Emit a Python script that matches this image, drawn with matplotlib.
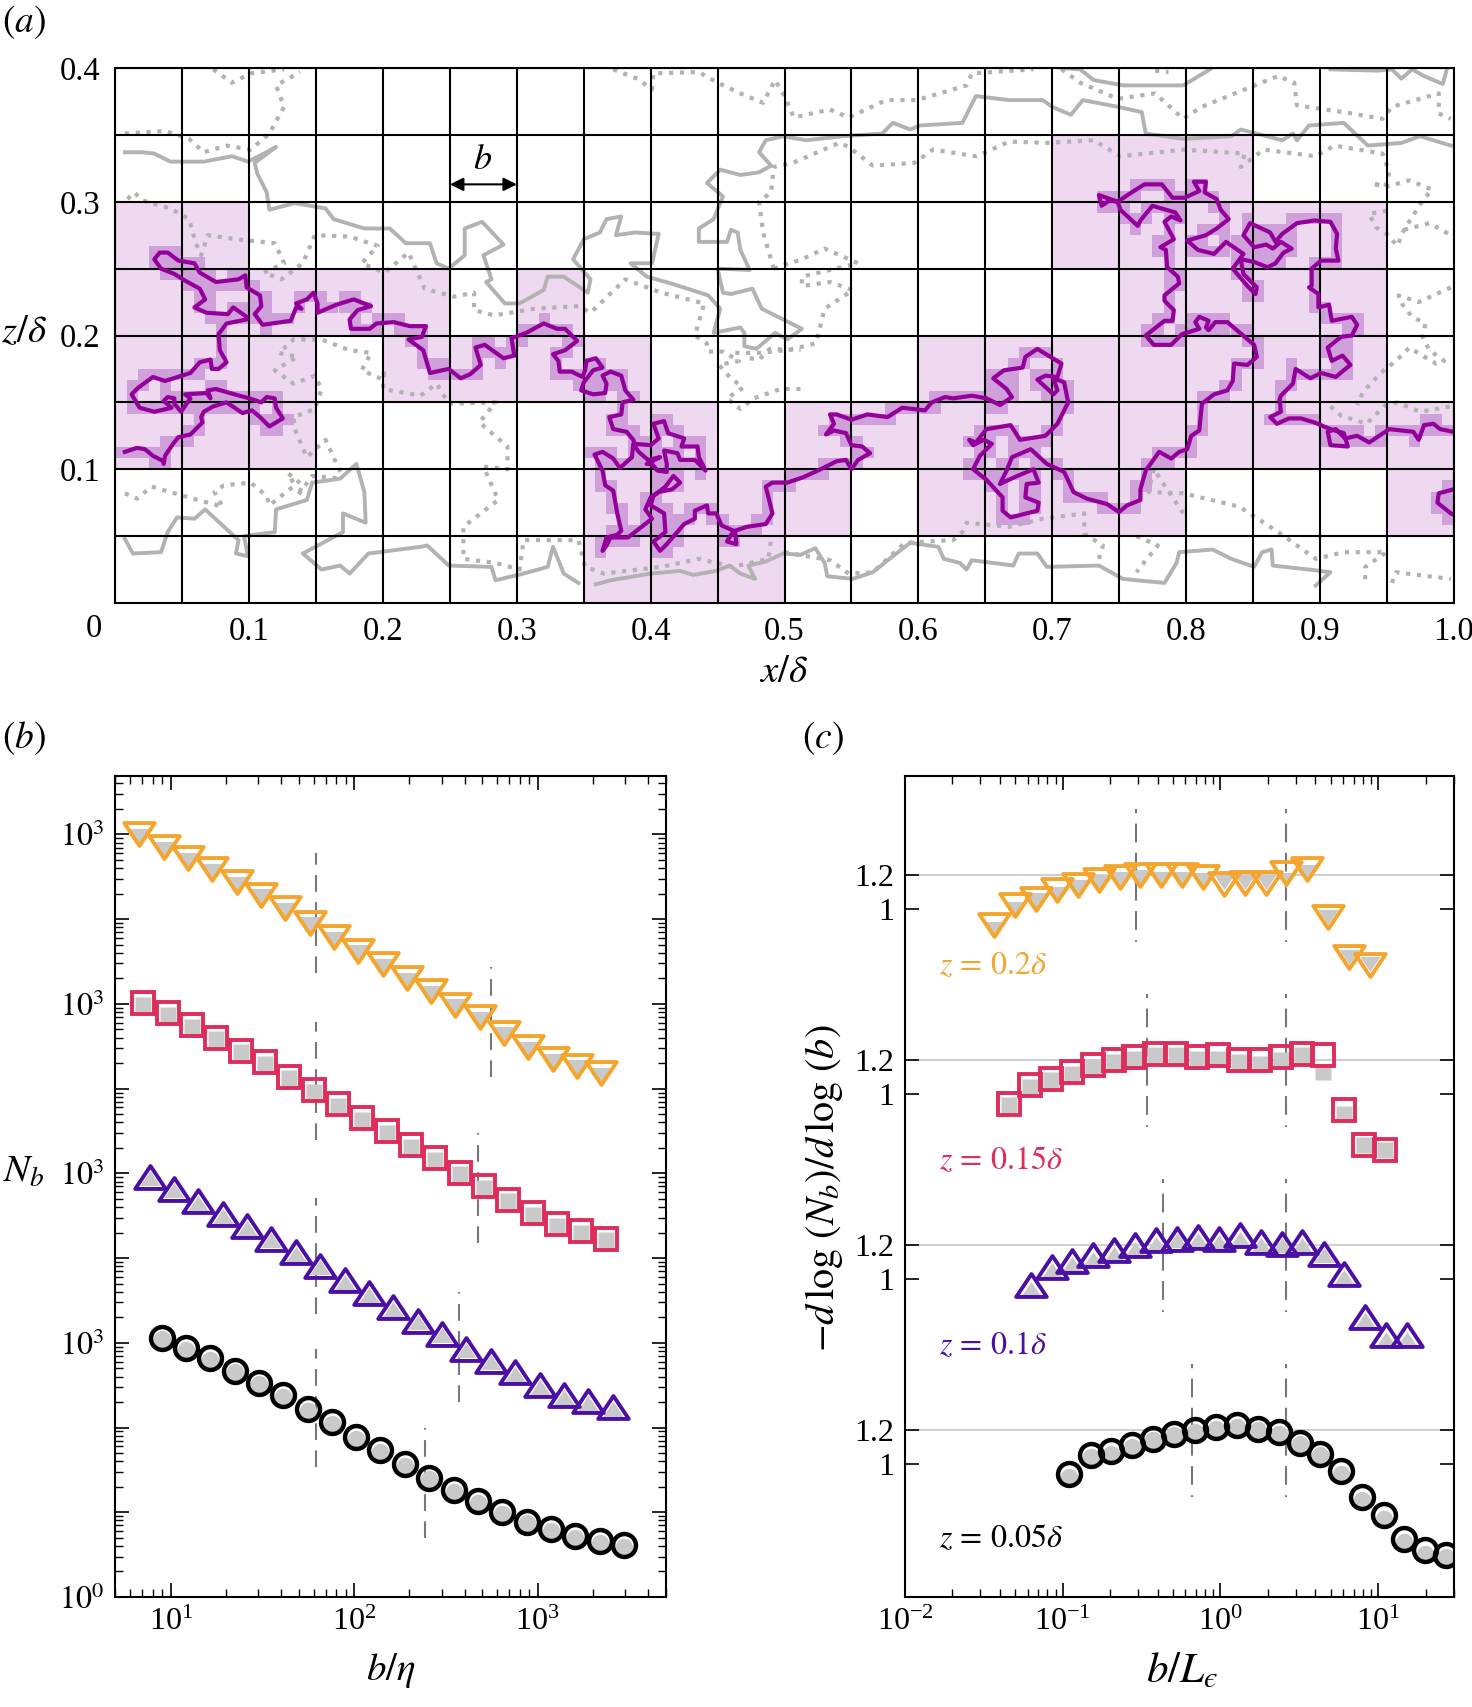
import matplotlib
matplotlib.use('Agg')
import matplotlib.pyplot as plt
import numpy as np
from matplotlib.patches import Rectangle
from matplotlib.path import Path
from matplotlib.ticker import LogLocator, NullFormatter

plt.rcParams['font.family'] = ['Liberation Serif', 'DejaVu Serif']
plt.rcParams['mathtext.fontset'] = 'stix'
plt.rcParams['font.size'] = 23

W, H = 1472.0, 1707.0

# ---- panel a, contours digitised as (x, z) in units of 0.001 delta
purple_1 = [(7,113),(16,116),(22,115),(28,110),(36,106),(36,104),(37,110),(43,119),(47,124),(56,126),(65,135),(64,139),(66,143),(73,147),(83,150),(89,146),(95,142),(102,144),(108,139),(115,132),(125,138),(120,146),(119,153),(113,154),(109,150),(100,153),(89,156),(75,160),(69,159),(71,153),(68,157),(52,156),(56,153),(49,143),(44,149),(44,153),(39,154),(36,151),(42,146),(29,143),(18,146),(12,156),(17,161),(28,169),(37,166),(56,172),(63,180),(71,182),(72,175),(77,175),(83,180),(78,189),(77,201),(83,209),(98,212),(98,214),(88,221),(84,216),(68,217),(59,221),(67,227),(63,235),(52,241),(44,246),(34,250),(29,257),(33,262),(39,262),(47,256),(59,254),(63,247),(75,240),(92,242),(97,245),(98,236),(108,230),(109,222),(104,216),(110,208),(131,211),(135,221),(139,220),(135,224),(143,227),(148,232),(151,224),(151,217),(165,223),(178,227),(191,222),(181,219),(175,212),(176,205),(190,205),(195,209),(208,210),(220,207),(232,207),(229,199),(219,197),(230,189),(235,172),(249,175),
            (258,168),(265,171),(273,178),(269,191),(276,193),(290,183),(298,185),(296,198),(307,202),(320,209),(330,205),(336,205),(345,196),(336,189),(327,186),(331,181),(332,173),(341,173),(349,169),(351,174),(352,181),(359,183),(364,176),(357,174),(350,165),(348,159),(357,156),(366,157),(367,164),(364,170),(370,173),(378,170),(381,159),(387,152),(379,150),(378,141),(369,139),(372,130),(382,128),(387,122),(388,119),(400,118),(406,123),(402,134),(410,136),(413,127),(425,123),(423,117),(435,117),(436,109),(441,99),(433,107),(422,107),(420,112),(410,114),(412,104),(412,98),(405,99),(401,104),(397,104),(407,109),(398,107),(391,113),(387,119),(386,109),(377,101),(372,108),(364,113),(358,111),(364,99),(366,88),(372,84),(375,67),(378,54),(375,51),(367,49),(364,39),(367,43),(370,49),(383,49),(401,63),(396,70),(400,79),(406,83),(416,85),(422,90),(417,95),(411,87),(402,80),(400,73),(410,67),(411,53),(406,49),(402,46),(407,39),(412,44),(425,59),(433,63),(433,69),(442,73),(443,67),(449,67),(453,58),(462,54),(457,46),(464,44),(463,54),(472,57),(486,59),(491,67),(486,87),(491,90),(502,90),
            (514,94),(527,100),(539,106),(546,107),(550,100),(555,107),(564,112),(558,117),(550,118),(546,127),(537,129),(531,126),(537,134),(534,141),(539,141),(550,137),(562,141),(577,139),(588,146),(605,144),(610,150),(620,154),(626,153),(640,155),(651,153),(661,148),(670,154),(666,160),(656,168),(664,174),(678,176),(680,184),(689,190),(707,179),(704,169),(695,170),(689,167),(701,156),(704,159),(701,168),(709,165),(712,150),(704,134),(695,125),(676,122),(669,133),(651,130),(643,120),(638,122),(641,118),(649,122),(655,119),(646,110),(641,100),(651,92),(663,79),(663,69),(669,64),(689,69),(690,75),(680,79),(681,89),(690,90),(686,100),(674,95),(661,89),(666,99),(670,109),(684,115),(696,104),(709,98),(716,83),(726,78),(741,74),(750,68),(756,73),(766,77),
            (766,85),(770,99),(780,113),(789,108),(795,113),(801,115),(804,125),(810,129),(812,149),(821,156),(831,159),(835,166),(836,179),(846,178),(853,184),(851,193),(838,204),(831,210),(822,210),(817,204),(815,206),(817,211),(810,214),(807,210),(810,205),(797,201),(789,193),(776,193),(770,200),(784,211),(790,211),(791,219),(784,226),(784,230),(795,239),(794,244),(786,251),(785,264),(781,266),(791,272),(784,285),(789,289),(796,286),(792,292),(775,297),(766,286),(764,282),(751,294),(749,300),(735,305),(737,297),(743,301),(749,300),(761,308),(769,313),(782,313),(790,303),(799,303),(810,308),(806,315),(815,315),(814,307),(823,302),(826,294),(832,287),(823,280),(815,275),(801,271),(809,264),(821,261),(830,270),(843,261),(835,250),(846,237),(852,231),(853,236),(843,246),(841,257),(851,255),(861,251),(867,254),(873,262),(879,265),(871,270),(865,265),(860,268),(851,266),(843,275),(848,284),(863,277),(867,270),(872,276),(883,284),(896,286),(908,285),(913,276),(912,265),(914,256),(901,256),(894,250),(894,237),(892,236),(899,231),(899,221),(907,223),(909,211),(924,214),(928,208),(924,200),(916,199),(906,191),(909,181),(917,185),(923,178),(918,174),(912,169),(901,172),(893,168),(882,175),(880,164),(871,155),(870,152),(871,143),(863,139),(868,134),(877,138),(886,138),(896,135),(908,130),(918,127),(921,117),(908,118),(906,128),(912,130),(919,123),(928,125),(937,120),(952,130),(970,128),(974,122),(978,133),(985,134),(990,130),(1000,128)]
purple_2 = [(1000,85),(989,82),(988,75),(998,67),(1000,66)]

gray_solid = [
    [(7,337),(20,337),(29,336),(41,330),(66,330),(87,334),(99,330),(111,336),(120,341),(104,329),(106,321),(113,307),(115,294),(134,299),(157,295),(163,287),(186,280),(205,280),(217,269),(235,269),(240,254),(249,250),(261,260),(261,280),(274,285),(290,268),(275,260),(281,242),(277,240),(291,224),(302,224),(320,234),(323,244),(335,244),(353,232),(355,242),(342,257),(350,272),(362,277),(367,287),(378,289),(374,275),(388,277),(406,276),(401,254),(385,254),(397,244),(415,239),(443,230),(452,220),(447,202),(467,206),(470,202),(470,192),(479,190),(493,202),(502,197),(513,205),(483,220),(476,235),(460,231),(454,232),(450,250),(474,249),(467,264),(465,277),(460,279),(457,270),(436,270),(436,280),(447,287),(454,304),(442,314),(452,324),(467,320),(481,322),(490,327),(481,337),(486,346),(499,349),(516,346),(544,349),(573,351),(581,359),(594,354),(601,357),(633,359),(643,379),(668,376),(693,376),(700,371),(714,365),(723,376),(749,371),(767,367),(770,351),(798,347),(834,349),(841,354),(872,346),(880,351),(883,346),(892,357),(918,359),(936,342),(961,344),(975,349),(998,342)],
    [(707,400),(721,399),(731,391),(753,387),(798,387),(818,399)],
    [(908,399),(943,398),(954,399),(961,392),(969,399),(978,394),(992,388),(995,399)],
    [(7,48),(13,37),(34,38),(39,53),(46,64),(59,63),(67,70),(80,58),(92,47),(90,37),(99,35),(96,50),(119,53),(120,70),(143,77),(147,90),(168,93),(180,104),(186,83),(187,60),(170,67),(170,53),(140,37),(154,25),(168,28),(175,22),(189,37),(228,42),(233,43),(249,28),(281,27),(284,17),(305,22),(323,27),(327,42),(335,22),(346,15)],
    [(359,14),(370,17),(400,22),(422,24),(432,21),(449,24),(459,28),(467,22),(478,18),(473,28),(486,31),(499,37),(512,36),(523,41),(530,30),(532,20),(551,18),(566,23),(581,35),(594,45),(615,42),(619,33),(631,30),(636,25),(640,32),(671,28),(675,37),(689,37),(696,27),(735,28),(753,18),(784,15),(793,30),(795,38),(820,40),(834,33),(851,27),(857,38),(864,40),(865,28),(892,25),(908,23),(897,13)],
]

gray_dotted = [
    [(7,351),(37,353),(55,347),(66,337),(83,342),(101,339),(115,351),(126,371),(120,387),(138,397)],
    [(73,399),(87,389),(101,396),(126,399)],
    [(9,302),(14,307),(20,301),(41,295),(55,287),(60,269),(64,260),(69,275),(90,272),(119,269),(126,254),(111,247),(124,242),(140,254),(149,275),(175,274),(196,267),(184,254),(201,247),(219,262),(231,235),(253,229),(268,232),(268,219),(283,215),(313,220),(346,222),(355,217),(381,242),(408,232),(440,224),(433,200),(442,194),(443,188),(454,188),(466,181),(451,178),(459,169),(469,161),(457,153),(467,145),(477,153),(497,160),(512,160)],
    [(474,183),(481,182),(489,190),(512,189)],
    [(168,98),(157,122),(143,109),(134,130),(133,139),(149,145),(154,160),(149,170),(133,164),(119,174),(136,184),(122,187),(133,197),(154,197),(175,189),(191,187),(184,174),(200,167),(201,175),(200,160),(228,155),(240,164),(249,149),(284,150),(272,135),(293,117),(293,100),(275,102),(286,77),(260,57),(260,33),(284,30),(302,25),(305,47),(346,47),(351,27),(365,22),(408,27),(436,33),(461,27),(488,33),(490,48)],
    [(500,38),(534,32),(548,22),(566,23),(590,45),(626,47),(633,53),(636,60),(668,57),(693,63),(724,67),(724,52),(738,43),(735,33)],
    [(763,50),(779,43),(763,23)],
    [(776,100),(772,83),(798,82),(840,72),(869,53),(897,33),(918,38),(950,38),(934,27),(934,15)],
    [(798,67),(776,100)],
    [(954,15),(957,23),(998,18)],
    [(372,399),(390,392),(401,384),(402,396),(436,397),(450,389),(467,381),(484,374),(493,391),(500,379),(507,363),(534,369),(548,363),(576,376),(599,376),(636,387),(640,396),(686,399)],
    [(707,399),(721,389),(749,377),(777,381),(798,362),(812,371),(844,384),(869,394),(881,389),(883,372),(918,367),(947,362),(954,371),(989,381),(989,366),(998,362)],
    [(777,398),(787,397)],
    [(492,250),(484,277),(481,300),(490,307),(492,326),(506,329),(541,344),(548,341),(566,327),(597,329),(611,339),(643,334),(648,336),(668,345),(696,344),(731,346),(751,334),(798,339),(844,336),(841,326),(858,339),(897,334),(911,342),(947,336),(952,322),(949,311),(939,314),(949,311),(967,316),(984,309),(977,301),(963,279),(958,267),(951,275),(942,281),(937,291),(955,294)],
    [(963,279),(982,284),(998,275)],
    [(492,250),(513,257),(530,265),(555,254),(513,244),(513,237),(534,240),(551,234),(530,220),(525,200),(523,194),(502,189),(481,187),(460,187)],
    [(998,236),(985,230),(974,225),(959,230),(962,223),(969,214),(979,209),(977,199),(982,189),(993,181),(987,179),(975,186),(967,191),(957,181),(948,174),(938,164),(932,157),(928,148)],
    [(908,147),(916,140),(935,134),(948,147),(958,150),(975,143),(998,147)],
    [(7,82),(16,78),(27,87),(51,80),(80,72),(74,83),(81,88),(101,90),(113,80),(115,73),(134,88),(129,97),(140,88),(136,80),(147,95),(168,93)],
]

# boxes of size 0.05 that hold the contour: row -> columns
large_box_cols = {
    0: [7, 8, 9],
    1: [7, 8, 9, 10, 12, 13, 14, 15, 19],
    2: [0, 1, 2, 7, 8, 10, 11, 12, 13, 14, 15, 16, 17, 18, 19],
    3: [0, 1, 2, 4, 5, 6, 7, 12, 13, 14, 15, 16, 17, 18],
    4: [0, 1, 2, 3, 4, 6, 15, 16, 17, 18],
    5: [0, 1, 14, 15, 16, 17, 18],
    6: [14, 15, 16],
}

# ---- panel b, b/eta and log10 of N_b (shifted by a decade pair per series)
b_eta_z20 = [6.75, 9.15, 12.4, 16.8, 22.9, 31.0, 42.1, 57.1, 77.4, 105, 143, 193, 262, 356, 483, 655, 889, 1206, 1637, 2218]
b_eta_z15 = [7.10, 9.63, 13.07, 17.74, 24.07, 32.67, 44.3, 60.2, 81.6, 110.8, 150, 204, 277, 376, 510, 692, 939, 1274, 1729, 2346]
b_eta_z10 = [7.67, 10.4, 14.1, 19.2, 26.1, 35.4, 48.1, 65.3, 88.7, 120, 163, 222, 301, 409, 556, 755, 1025, 1392, 1890, 2570]
b_eta_z05 = [8.93, 12.1, 16.4, 22.3, 30.3, 41.1, 55.8, 75.7, 102.7, 139, 189, 257, 348, 473, 642, 871, 1182, 1604, 2177, 2954]

logN_z20 = [9.0, 8.85, 8.72, 8.59, 8.44, 8.29, 8.13, 7.96, 7.79, 7.63, 7.47, 7.30, 7.15, 6.99, 6.84, 6.66, 6.49, 6.35, 6.27, 6.18]
logN_z15 = [7.01, 6.89, 6.75, 6.60, 6.45, 6.31, 6.14, 5.98, 5.82, 5.65, 5.50, 5.33, 5.18, 5.01, 4.85, 4.69, 4.53, 4.40, 4.32, 4.23]
logN_z10 = [4.96, 4.82, 4.67, 4.52, 4.38, 4.23, 4.07, 3.91, 3.74, 3.59, 3.42, 3.26, 3.11, 2.93, 2.79, 2.65, 2.50, 2.38, 2.31, 2.24]
logN_z05 = [3.06, 2.94, 2.82, 2.67, 2.53, 2.38, 2.22, 2.06, 1.89, 1.73, 1.57, 1.41, 1.26, 1.13, 1.00, 0.89, 0.80, 0.72, 0.66, 0.61]

logN_grey_z20 = [8.98, 8.83, 8.70, 8.57, 8.42, 8.27, 8.11, 7.94, 7.77, 7.61, 7.45, 7.28, 7.13, 6.97, 6.82, 6.64, 6.47, 6.33, 6.25, 6.16]
logN_grey_z15 = [6.99, 6.87, 6.73, 6.58, 6.43, 6.29, 6.12, 5.96, 5.80, 5.63, 5.48, 5.31, 5.16, 4.99, 4.83, 4.67, 4.51, 4.38, 4.30, 4.21]
logN_grey_z10 = [4.94, 4.80, 4.65, 4.50, 4.36, 4.21, 4.05, 3.89, 3.72, 3.57, 3.40, 3.24, 3.09, 2.91, 2.77, 2.63, 2.48, 2.36, 2.29, 2.22]
logN_grey_z05 = [3.04, 2.92, 2.80, 2.65, 2.51, 2.36, 2.20, 2.04, 1.87, 1.71, 1.55, 1.39, 1.24, 1.11, 0.98, 0.87, 0.78, 0.70, 0.64, 0.59]

# dashed scale markers: (b/eta, low, high exponent)
b_dash = [(62, 7.37, 8.78), (62, 5.39, 6.79), (62, 3.34, 4.71), (62, 1.54, 2.93),
          (557, 6.14, 7.44), (471, 4.18, 5.48), (374, 2.30, 3.60), (244, 0.70, 2.00)]

# ---- panel c, b/L_eps and local slope
b_L_z20 = [0.0369, 0.0500, 0.0678, 0.0920, 0.1247, 0.169, 0.229, 0.311, 0.422, 0.572, 0.776, 1.05, 1.43, 1.93, 2.62, 3.56, 4.82, 6.54, 8.87]
b_L_z15 = [0.0456, 0.0619, 0.0840, 0.114, 0.155, 0.210, 0.285, 0.386, 0.524, 0.711, 0.965, 1.31, 1.78, 2.41, 3.27, 4.44, 6.03, 8.18, 11.1]
b_L_z10 = [0.0626, 0.0850, 0.115, 0.156, 0.212, 0.288, 0.391, 0.530, 0.720, 0.977, 1.33, 1.80, 2.44, 3.31, 4.50, 6.10, 8.28, 11.2, 15.2]
b_L_z05 = [0.110, 0.150, 0.203, 0.276, 0.374, 0.508, 0.689, 0.935, 1.27, 1.72, 2.34, 3.17, 4.30, 5.84, 7.92, 10.8, 14.6, 19.8, 26.9]

slope_z20 = [0.90, 1.02, 1.06, 1.11, 1.14, 1.17, 1.19, 1.20, 1.20, 1.20, 1.19, 1.15, 1.155, 1.155, 1.215, 1.24, 0.95, 0.71, 0.66]
slope_z15 = [0.94, 1.05, 1.09, 1.13, 1.17, 1.20, 1.22, 1.24, 1.24, 1.22, 1.23, 1.20, 1.20, 1.22, 1.24, 1.23, 0.90, 0.69, 0.66]
slope_z10 = [0.96, 1.07, 1.105, 1.14, 1.17, 1.20, 1.23, 1.24, 1.25, 1.24, 1.26, 1.22, 1.21, 1.22, 1.15, 1.03, 0.77, 0.66, 0.66]
slope_z05 = [0.936, 1.05, 1.075, 1.11, 1.15, 1.18, 1.20, 1.22, 1.23, 1.21, 1.19, 1.125, 1.06, 0.955, 0.80, 0.69, 0.55, 0.48, 0.45]

slope_grey_z20 = [0.88, 1.00, 1.05, 1.09, 1.13, 1.16, 1.18, 1.19, 1.18, 1.18, 1.17, 1.16, 1.16, 1.16, 1.17, 1.22, 0.95, 0.71, 0.67]
slope_grey_z15 = [0.93, 1.04, 1.08, 1.12, 1.16, 1.19, 1.21, 1.23, 1.23, 1.21, 1.21, 1.19, 1.18, 1.20, 1.23, 1.13, 0.88, 0.69, 0.66]
slope_grey_z10 = [0.94, 1.05, 1.09, 1.12, 1.15, 1.18, 1.21, 1.23, 1.23, 1.22, 1.24, 1.20, 1.20, 1.20, 1.14, 1.01, 0.75, 0.64, 0.64]
slope_grey_z05 = [0.92, 1.04, 1.06, 1.10, 1.14, 1.17, 1.19, 1.21, 1.22, 1.20, 1.18, 1.115, 1.05, 0.94, 0.78, 0.67, 0.53, 0.46, 0.44]

c_offsets = [3.33, 2.22, 1.11, 0.0]
c_dash_x = [0.292, 0.342, 0.432, 0.662]
c_dash_right = 2.6
c_labels = ['$z\\,=\\,0.2\\delta$', '$z\\,=\\,0.15\\delta$', '$z\\,=\\,0.1\\delta$', '$z\\,=\\,0.05\\delta$']
c_label_y = [0.649, 0.592, 0.596, 0.547]

colors = ['#F3A52D', '#DE2D5A', '#4B0FA5', '#000000']
tri = Path([(-1, -0.75), (1, -0.75), (0, 0.75), (-1, -0.75)], closed=True)
tri_down = Path([(-1, 0.75), (1, 0.75), (0, -0.75), (-1, 0.75)], closed=True)
markers = [tri_down, 's', tri, 'o']
m_sizes = [22, 15.5, 22, 16.5]
g_sizes = [14.5, 11.5, 14.5, 12.5]
m_edges = [2.8, 2.8, 2.8, 3.2]
GREY = '#C9C9C9'
DASH = '#777777'


def axes_px(left, top, right, bottom):
    return [left / W, 1 - bottom / H, (right - left) / W, (bottom - top) / H]


def to_xz(points):
    p = np.array(points, dtype=float) / 1000.0
    return p[:, 0], p[:, 1]


def small_boxes(curves, size=0.05 / 6):
    # box counting on the contour at the small box size
    cells = set()
    for xs, zs in curves:
        for i in range(len(xs) - 1):
            t = np.linspace(0, 1, 30)
            px = xs[i] + t * (xs[i + 1] - xs[i])
            pz = zs[i] + t * (zs[i + 1] - zs[i])
            for a, b in zip(np.floor(px / size), np.floor(pz / size)):
                cells.add((int(a), int(b)))
    return cells, size


fig = plt.figure(figsize=(W / 100, H / 100), dpi=100)

# ---- (a)
ax = fig.add_axes(axes_px(115.5, 68, 1453.5, 603))
ax.set_xlim(0, 1)
ax.set_ylim(0, 0.4)
for row, cols in large_box_cols.items():
    for col in cols:
        ax.add_patch(Rectangle((col * 0.05, row * 0.05), 0.05, 0.05, fc='#EFD9F0', ec='none', zorder=1))

curves = [to_xz(purple_1), to_xz(purple_2)]
cells, size = small_boxes(curves)
for a, b in cells:
    if 0 <= a * size < 1 and 0 <= b * size < 0.4:
        ax.add_patch(Rectangle((a * size, b * size), size, size, fc='#D0A0DA', ec='none', zorder=1.5))

for c in gray_solid:
    xs, zs = to_xz(c)
    ax.plot(xs, zs, color='#B2B2B2', lw=2.8, solid_joinstyle='round', zorder=2)
for c in gray_dotted:
    xs, zs = to_xz(c)
    ax.plot(xs, zs, color='#B2B2B2', lw=3.0, ls=(0, (1, 1.6)), zorder=2)

ax.set_xticks(np.arange(0.05, 1.0, 0.1), minor=True)
ax.set_yticks(np.arange(0.05, 0.4, 0.1), minor=True)
ax.set_xticks(np.arange(0, 1.01, 0.1))
ax.set_xticklabels(['', '0.1', '0.2', '0.3', '0.4', '0.5', '0.6', '0.7', '0.8', '0.9', '1.0'], fontsize=23.5)
ax.set_yticks([0.1, 0.2, 0.3, 0.4])
ax.set_yticklabels(['0.1', '0.2', '0.3', '0.4'], fontsize=23.5)
ax.grid(which='both', color='k', lw=1.5, zorder=3)
ax.set_axisbelow(False)
ax.tick_params(which='both', length=0)
ax.tick_params(axis='x', pad=10)
ax.tick_params(axis='y', pad=11)
for s in ax.spines.values():
    s.set_linewidth(1.5)
    s.set_zorder(5)
for xs, zs in curves:
    ax.plot(xs, zs, color='#93009A', lw=3.0, solid_joinstyle='round', zorder=4)

ax.annotate('', xy=(0.25, 0.313), xytext=(0.30, 0.313), zorder=6,
            arrowprops=dict(arrowstyle='<|-|>', color='k', lw=1.5, mutation_scale=20, shrinkA=0, shrinkB=0))
ax.text(0.274, 0.331, '$b$', ha='center', va='center', zorder=6, fontsize=26)

fig.text(94 / W, 1 - 629 / H, '0', ha='center', va='center', fontsize=23.5)
fig.text(784 / W, 1 - 672 / H, '$x/\\delta$', ha='center', va='center', fontsize=28)
fig.text(24 / W, 1 - 333 / H, '$z/\\delta$', ha='center', va='center', fontsize=28)
fig.text(2 / W, 1 - 22 / H, '$(a)$', ha='left', va='center', fontsize=27)
fig.text(2 / W, 1 - 738 / H, '$(b)$', ha='left', va='center', fontsize=27)
fig.text(802 / W, 1 - 738 / H, '$(c)$', ha='left', va='center', fontsize=27)

# ---- (b)
ax = fig.add_axes(axes_px(115.5, 776, 666, 1597))
ax.set_xscale('log')
ax.set_yscale('log')
ax.set_xlim(5, 5000)
ax.set_ylim(1, 10 ** 9.69)
for x, lo, hi in b_dash:
    ax.plot([x, x], [10 ** lo, 10 ** hi], color=DASH, lw=1.5, ls=(0, (8, 5)), zorder=1)

b_x = [b_eta_z20, b_eta_z15, b_eta_z10, b_eta_z05]
b_y = [logN_z20, logN_z15, logN_z10, logN_z05]
b_g = [logN_grey_z20, logN_grey_z15, logN_grey_z10, logN_grey_z05]
for i in range(4):
    x = np.array(b_x[i])
    ax.plot(x, 10 ** np.array(b_g[i]), ls='none', marker=markers[i], ms=g_sizes[i], mfc=GREY, mec='none', zorder=2)
    ax.plot(x, 10 ** np.array(b_y[i]), ls='none', marker=markers[i], ms=m_sizes[i], mfc='none',
            mec=colors[i], mew=m_edges[i], zorder=3)

ax.set_yticks([10.0 ** k for k in range(10)])
ax.set_yticklabels(['$10^{%d}$' % e if e is not None else '' for e in [0, None, None, 3, None, 3, None, 3, None, 3]])
ax.yaxis.set_minor_locator(LogLocator(base=10, subs=np.arange(2, 10), numticks=30))
ax.yaxis.set_minor_formatter(NullFormatter())
ax.xaxis.set_major_locator(LogLocator(base=10, numticks=10))
ax.xaxis.set_minor_locator(LogLocator(base=10, subs=np.arange(2, 10), numticks=10))
ax.xaxis.set_minor_formatter(NullFormatter())
ax.tick_params(which='major', direction='in', length=10, width=1.2, top=True, right=True, pad=8)
ax.tick_params(which='minor', direction='in', length=5.5, width=1.0, top=True, right=True)
for s in ax.spines.values():
    s.set_linewidth(1.5)
fig.text(24 / W, 1 - 1172 / H, '$N_b$', ha='center', va='center', fontsize=28)
fig.text(391 / W, 1 - 1671 / H, '$b/\\eta$', ha='center', va='center', fontsize=28)

# ---- (c)
ax = fig.add_axes(axes_px(905, 776, 1453.5, 1597))
ax.set_xscale('log')
ax.set_xlim(0.01, 30)
ax.set_ylim(0.2, 5.125)
c_x = [b_L_z20, b_L_z15, b_L_z10, b_L_z05]
c_y = [slope_z20, slope_z15, slope_z10, slope_z05]
c_g = [slope_grey_z20, slope_grey_z15, slope_grey_z10, slope_grey_z05]
for i in range(4):
    off = c_offsets[i]
    ax.axhline(1.2 + off, color='#CCCCCC', lw=1.3, zorder=0.5)
    for x in [c_dash_x[i], c_dash_right]:
        ax.plot([x, x], [1.6 + off, 0.8 + off], color=DASH, lw=1.5, ls=(7, (9, 5)), zorder=1)
    ax.plot(c_x[i], np.array(c_g[i]) + off, ls='none', marker=markers[i], ms=g_sizes[i], mfc=GREY, mec='none', zorder=2)
    ax.plot(c_x[i], np.array(c_y[i]) + off, ls='none', marker=markers[i], ms=m_sizes[i], mfc='none',
            mec=colors[i], mew=m_edges[i], zorder=3)
    ax.text(0.0164, c_label_y[i] + off, c_labels[i], color=colors[i], ha='left', va='center', fontsize=23)

y_ticks = []
y_labels = []
for off in c_offsets[::-1]:
    y_ticks += [1 + off, 1.2 + off]
    y_labels += ['1', '1.2']
ax.set_yticks(y_ticks)
ax.set_yticklabels(y_labels)
ax.xaxis.set_major_locator(LogLocator(base=10, numticks=10))
ax.xaxis.set_minor_locator(LogLocator(base=10, subs=np.arange(2, 10), numticks=10))
ax.xaxis.set_minor_formatter(NullFormatter())
ax.tick_params(which='major', direction='in', length=10, width=1.2, top=True, right=True, pad=8)
ax.tick_params(which='minor', direction='in', length=5.5, width=1.0, top=True, right=True)
for s in ax.spines.values():
    s.set_linewidth(1.5)
fig.text(824 / W, 1 - 1188 / H, '$-d\\,\\log\\,(N_b)/d\\,\\log\\,(b)$', rotation=90, ha='center', va='center', fontsize=29)
fig.text(1182 / W, 1 - 1671 / H, '$b/L_{\u03f5}$', ha='center', va='center', fontsize=31)

fig.savefig('out.png', dpi=100)
